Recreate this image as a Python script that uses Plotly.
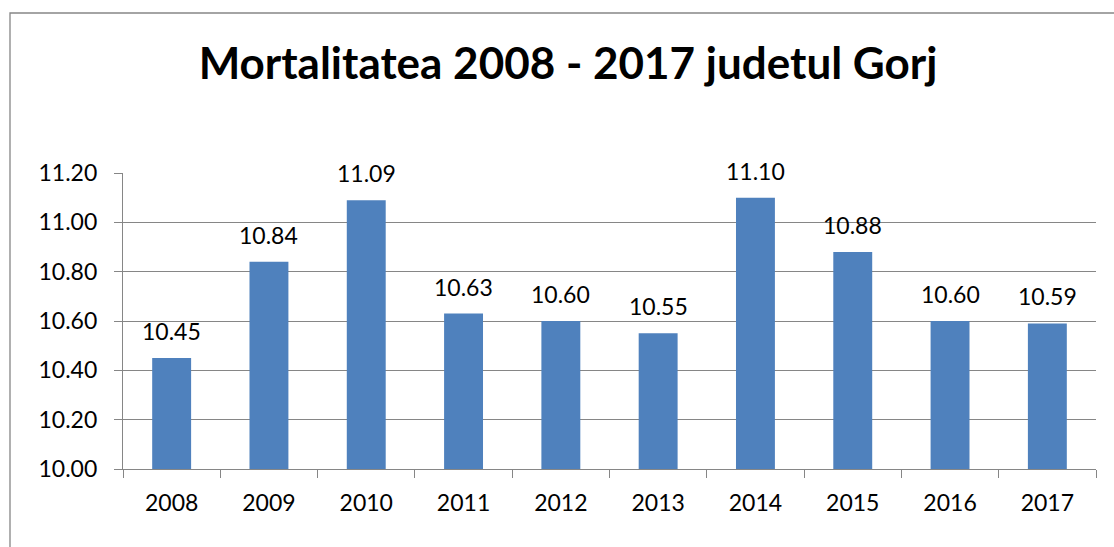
import plotly.graph_objects as go

years = ["2008", "2009", "2010", "2011", "2012", "2013", "2014", "2015", "2016", "2017"]
values = [10.45, 10.84, 11.09, 10.63, 10.60, 10.55, 11.10, 10.88, 10.60, 10.59]
title_text = "Mortalitatea 2008 - 2017 judetul Gorj"

FONT = "Lato, Carlito, Calibri, 'Noto Sans', sans-serif"
GRID = "#868686"
FS = 23

fig = go.Figure()
fig.add_trace(go.Bar(
    x=years, y=values,
    marker=dict(color="#4F81BD", line=dict(width=0)),
    width=0.4,
    hoverinfo="x+y",
))

for i, v in enumerate(values):
    fig.add_annotation(x=i, y=v, text=f"{v:.2f}", showarrow=False,
                       yanchor="middle", yshift=27,
                       font=dict(family=FONT, size=FS, color="#000000"))

L, R, T, B = 123, 18, 173, 78
W, H = 1114, 547
pw = W - L - R
ph = H - T - B

# outer chart border (left and top visible; extends beyond canvas)
fig.add_shape(type="rect", xref="paper", yref="paper",
              x0=(10 - L) / pw, x1=(W + 20 - L) / pw,
              y0=-(H + 20 - T - ph) / ph, y1=(ph + T - 13) / ph,
              line=dict(color=GRID, width=1.3), fillcolor="rgba(0,0,0,0)",
              layer="below")

fig.update_layout(
    width=W, height=H,
    margin=dict(l=L, r=R, t=T, b=B, pad=0),
    paper_bgcolor="white", plot_bgcolor="white",
    showlegend=False,
    title=dict(text=f"<b>{title_text}</b>", x=568 / W, xanchor="center",
               xref="container", yref="container",
               y=1 - 64 / H, yanchor="middle",
               font=dict(family=FONT, size=44, color="#000000")),
    font=dict(family=FONT, size=FS, color="#000000"),
    xaxis=dict(type="category", tickson="boundaries", ticks="outside",
               ticklen=8, tickcolor=GRID, tickwidth=1.3,
               showline=True, linecolor=GRID, linewidth=1.3,
               showgrid=False, tickfont=dict(family=FONT, size=FS),
               tickangle=0, ticklabelstandoff=13),
    yaxis=dict(range=[10.0, 11.2], dtick=0.2, tick0=10.0, tickformat=".2f",
               ticks="outside", ticklen=8, tickcolor=GRID, tickwidth=1.3,
               showline=True, linecolor=GRID, linewidth=1.3,
               showgrid=True, gridcolor=GRID, gridwidth=1.3,
               zeroline=False, tickfont=dict(family=FONT, size=FS),
               ticklabelstandoff=12),
)

fig.write_html("out.html", config={"displayModeBar": False},
               post_script="document.body.style.margin='0';document.body.style.overflow='hidden';")
